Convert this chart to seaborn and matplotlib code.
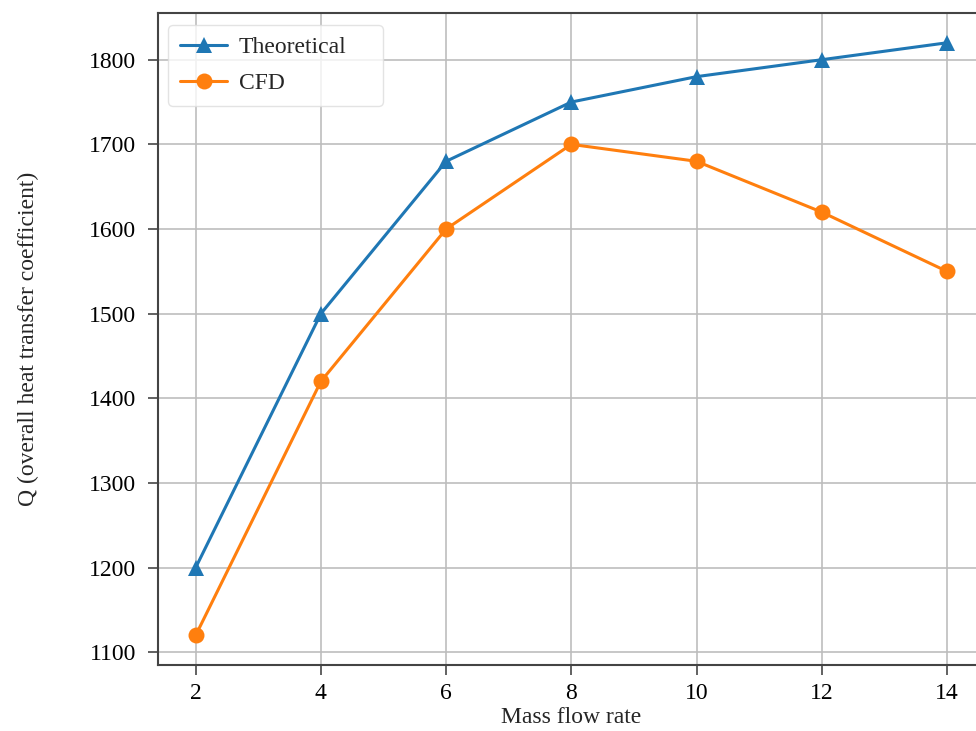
import matplotlib
matplotlib.use("Agg")
import matplotlib.pyplot as plt
import seaborn as sns
import pandas as pd

mass_flow = [2, 4, 6, 8, 10, 12, 14]
theoretical = [1200, 1500, 1680, 1750, 1780, 1800, 1820]
cfd = [1120, 1420, 1600, 1700, 1680, 1620, 1550]

sns.set_theme(style="whitegrid")
plt.rcParams['font.family'] = ['Liberation Serif', 'DejaVu Serif']

df = pd.concat([
    pd.DataFrame({"x": mass_flow, "y": theoretical, "series": "Theoretical"}),
    pd.DataFrame({"x": mass_flow, "y": cfd, "series": "CFD"}),
])

fig = plt.figure(figsize=(9.76, 7.31), dpi=100)
ax = fig.add_axes([0.162, 0.0903, 0.8467, 0.8917])

sns.lineplot(data=df, x="x", y="y", hue="series", style="series",
             markers={"Theoretical": "^", "CFD": "o"}, dashes=False,
             palette={"Theoretical": "#1f77b4", "CFD": "#ff7f0e"},
             markersize=11.5, linewidth=2.2, markeredgewidth=0, ax=ax)

ax.set_xticks(mass_flow)
ax.set_yticks([1100, 1200, 1300, 1400, 1500, 1600, 1700, 1800])
ax.tick_params(axis='both', labelsize=17, length=7, width=1.3, direction='out',
               bottom=True, left=True, color='#555555', labelcolor='black')
ax.tick_params(axis='y', pad=9)
ax.tick_params(axis='x', pad=6)
for s in ax.spines.values():
    s.set_color('#444444')
    s.set_linewidth(1.5)
ax.grid(True, color='#bdbdbd', linewidth=1.2)
ax.set_xlabel("Mass flow rate", fontsize=17, labelpad=2)
ax.set_ylabel("Q (overall heat transfer coefficient)", fontsize=17, labelpad=36)
ax.legend(title=None, loc='upper left', fontsize=17, frameon=True, framealpha=0.8,
          edgecolor='#dddddd', handlelength=2.0, handletextpad=0.5,
          labelspacing=0.6, borderpad=0.5, mode='expand', borderaxespad=0,
          bbox_to_anchor=(0.0121, 0.859, 0.260, 0.1226))

fig.savefig("out.png", dpi=100)
